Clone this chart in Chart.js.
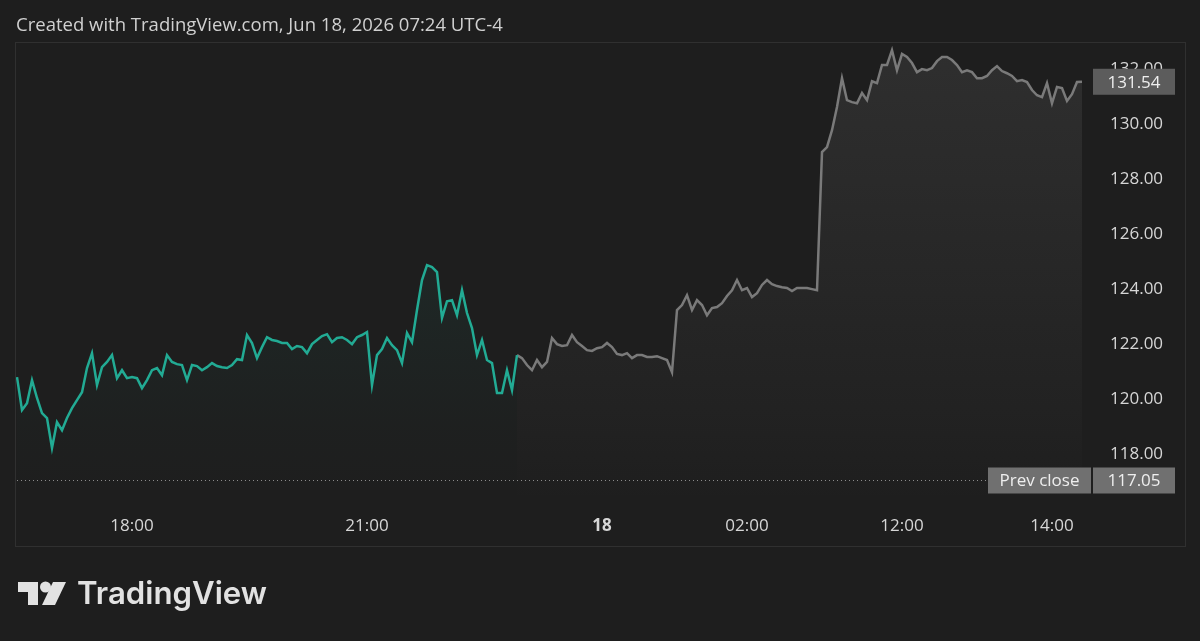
<!DOCTYPE html>
<html>
<head>
<meta charset="utf-8">
<script src="https://cdn.jsdelivr.net/npm/chart.js@4.4.1/dist/chart.umd.min.js"></script>
<style>
  html, body { margin: 0; padding: 0; background: #1e1e1e; }
  #wrap { width: 1200px; height: 641px; }
</style>
</head>
<body>
<div id="wrap"><canvas id="tvChart" width="1200" height="641"></canvas></div>
<script>
// price per bar (index = bar number)
const prices = [
  120.80, 119.60, 119.85, 120.69, 120.04, 119.49, 119.31, 118.22, 119.16, 118.87,
  119.31, 119.67, 119.96, 120.25, 121.13, 121.67, 120.51, 121.16, 121.35, 121.60,
  120.76, 121.05, 120.76, 120.80, 120.76, 120.40, 120.69, 121.05, 121.13, 120.87,
  121.60, 121.35, 121.27, 121.24, 120.69, 121.24, 121.20, 121.05, 121.16, 121.31,
  121.20, 121.16, 121.13, 121.24, 121.45, 121.42, 122.33, 122.04, 121.49, 121.89,
  122.25, 122.15, 122.11, 122.04, 122.04, 121.82, 121.93, 121.89, 121.67, 122.00,
  122.15, 122.29, 122.36, 122.07, 122.22, 122.25, 122.15, 122.00, 122.25, 122.33,
  122.44, 120.51, 121.60, 121.82, 122.22, 121.96, 121.78, 121.31, 122.40, 122.07,
  123.24, 124.33, 124.87, 124.80, 124.62, 122.95, 123.56, 123.60, 123.05, 123.96,
  123.13, 122.58, 121.60, 122.15, 121.42, 121.31, 120.22, 120.22, 121.05, 120.33,
  121.60, 121.49, 121.24, 121.05, 121.42, 121.16, 121.35, 122.22, 122.00, 121.93,
  121.96, 122.33, 122.07, 121.93, 121.78, 121.75, 121.85, 121.89, 122.04, 121.89,
  121.64, 121.60, 121.67, 121.49, 121.60, 121.60, 121.53, 121.53, 121.56, 121.49,
  121.42, 120.98, 123.24, 123.42, 123.78, 123.24, 123.60, 123.42, 123.05, 123.31,
  123.35, 123.49, 123.75, 123.96, 124.33, 123.96, 124.04, 123.71, 123.85, 124.15,
  124.33, 124.18, 124.11, 124.07, 124.04, 123.93, 124.04, 124.04, 124.04, 124.00,
  123.96, 128.98, 129.16, 129.78, 130.62, 131.67, 130.87, 130.80, 130.76, 131.13,
  130.87, 131.56, 131.49, 132.15, 132.15, 132.69, 131.96, 132.55, 132.44, 132.22,
  131.89, 132.00, 131.96, 132.04, 132.29, 132.44, 132.44, 132.33, 132.15, 131.89,
  131.96, 131.89, 131.67, 131.67, 131.75, 131.96, 132.11, 131.93, 131.85, 131.75,
  131.56, 131.60, 131.53, 131.24, 131.05, 130.98, 131.49, 130.76, 131.35, 131.31,
  130.84, 131.09, 131.53, 131.54
];
const sessionEnd = 100;          // last bar of the extended (green) session
const tickIdx = [23, 70, 117, 146, 177, 207];
const tickLabels = ['18:00', '21:00', '18', '02:00', '12:00', '14:00'];
const yTicks = [118, 120, 122, 124, 126, 128, 130, 132];
const prevClose = 117.05;
const lastPrice = 131.54;

const GREEN = '#22ab94';
const GREY = '#7a7a7a';
const TXT = '#d6d6d6';
const FONT = '"Open Sans", "Noto Sans", sans-serif';

const greenPts = prices.slice(0, sessionEnd + 1).map((v, i) => ({ x: i, y: v }));
const greyPts = prices.slice(sessionEnd).map((v, i) => ({ x: i + sessionEnd, y: v }));

function areaFill(rgb, aTop, aBot) {
  return (ctx) => {
    const area = ctx.chart.chartArea;
    if (!area) return 'transparent';
    const g = ctx.chart.ctx.createLinearGradient(0, area.top, 0, area.bottom);
    g.addColorStop(0, `rgba(${rgb},${aTop})`);
    g.addColorStop(0.85, `rgba(${rgb},${aBot})`);
    g.addColorStop(1, `rgba(${rgb},0)`);
    return g;
  };
}

function fitFont(c, text, weight, family, width) {
  c.font = `${weight} 20px ${family}`;
  const w = c.measureText(text).width;
  return 20 * width / w;
}

const decor = {
  id: 'decor',
  beforeDraw(chart) {
    const c = chart.ctx;
    c.save();
    c.fillStyle = '#1e1e1e';
    c.fillRect(0, 0, chart.width, chart.height);
    c.restore();
  },
  afterDraw(chart) {
    const c = chart.ctx;
    const area = chart.chartArea;
    const ys = chart.scales.y;
    c.save();

    // header
    const head = 'Created with TradingView.com, Jun 18, 2026 07:24 UTC-4';
    const hs = fitFont(c, head, 400, FONT, 487);
    c.font = `400 ${hs}px ${FONT}`;
    c.fillStyle = '#d0d0d0';
    c.textBaseline = 'alphabetic';
    c.textAlign = 'left';
    c.fillText(head, 16, 31);

    // panel border
    c.strokeStyle = '#303030';
    c.lineWidth = 1;
    c.strokeRect(15.5, 42.5, 1170, 504);

    // prev close dotted line
    const py = Math.round(ys.getPixelForValue(prevClose)) + 0.5;
    c.strokeStyle = '#8c8c8c';
    c.setLineDash([1, 3]);
    c.beginPath();
    c.moveTo(area.left + 2, py);
    c.lineTo(area.right - 102, py);
    c.stroke();
    c.setLineDash([]);

    // price boxes
    const bx = area.right + 3, bw = 82, bh = 26;
    c.font = `400 17px ${FONT}`;
    c.textAlign = 'center';
    c.textBaseline = 'middle';

    const ly = ys.getPixelForValue(lastPrice);
    c.fillStyle = '#5c5c5c';
    c.fillRect(bx, ly - bh / 2, bw, bh);
    c.fillStyle = '#eeeeee';
    c.fillText(lastPrice.toFixed(2), bx + bw / 2, ly + 1);

    c.fillStyle = '#707070';
    c.fillRect(bx, py - bh / 2, bw, bh);
    c.fillRect(area.right - 102, py - bh / 2, 103, bh);
    c.fillStyle = '#eeeeee';
    c.fillText(prevClose.toFixed(2), bx + bw / 2, py + 1);
    c.fillText('Prev close', area.right - 102 + 51.5, py + 1);

    // TradingView logo
    c.fillStyle = '#e2e2e2';
    c.fillRect(18, 582, 20, 10);
    c.fillRect(28, 582, 10, 23);
    c.beginPath();
    c.arc(45.5, 587, 5.5, 0, Math.PI * 2);
    c.fill();
    c.beginPath();
    c.moveTo(53, 582);
    c.lineTo(66, 582);
    c.lineTo(55, 605);
    c.lineTo(42, 605);
    c.closePath();
    c.fill();

    const brand = 'TradingView';
    const bs = fitFont(c, brand, 600, 'Inter, "Open Sans", sans-serif', 190);
    c.font = `600 ${bs}px Inter, "Open Sans", sans-serif`;
    c.textAlign = 'left';
    c.textBaseline = 'alphabetic';
    c.fillText(brand, 77, 604);

    c.restore();
  }
};

new Chart(document.getElementById('tvChart'), {
  type: 'line',
  data: {
    datasets: [
      {
        data: greenPts,
        borderColor: GREEN,
        borderWidth: 2.5,
        pointRadius: 0,
        tension: 0,
        fill: 'start',
        backgroundColor: areaFill('34,171,148', 0.15, 0.01)
      },
      {
        data: greyPts,
        borderColor: GREY,
        borderWidth: 2.5,
        pointRadius: 0,
        tension: 0,
        fill: 'start',
        backgroundColor: areaFill('130,130,130', 0.17, 0.03)
      }
    ]
  },
  options: {
    responsive: false,
    animation: false,
    layout: { padding: { top: 43, left: 15, right: 15, bottom: 95 } },
    plugins: { legend: { display: false }, tooltip: { enabled: false } },
    scales: {
      x: {
        type: 'linear',
        min: -0.4,
        max: 214.6,
        grid: { display: false, drawTicks: false },
        border: { display: false },
        afterBuildTicks: (axis) => { axis.ticks = tickIdx.map(v => ({ value: v })); },
        afterFit: (axis) => { axis.height = 46; },
        ticks: {
          autoSkip: false,
          maxRotation: 0,
          padding: 16,
          color: TXT,
          font: (ctx) => ({ family: FONT, size: 17, weight: ctx.tick && ctx.tick.value === 117 ? 'bold' : 'normal' }),
          callback: (v) => tickLabels[tickIdx.indexOf(v)]
        }
      },
      y: {
        position: 'right',
        min: 116.33,
        max: 132.95,
        grid: { display: false, drawTicks: false },
        border: { display: false },
        afterBuildTicks: (axis) => { axis.ticks = yTicks.map(v => ({ value: v })); },
        afterFit: (axis) => { axis.width = 95; },
        ticks: {
          padding: 20,
          color: TXT,
          font: { family: FONT, size: 17 },
          callback: (v) => v.toFixed(2)
        }
      }
    }
  },
  plugins: [decor]
});
</script>
</body>
</html>
